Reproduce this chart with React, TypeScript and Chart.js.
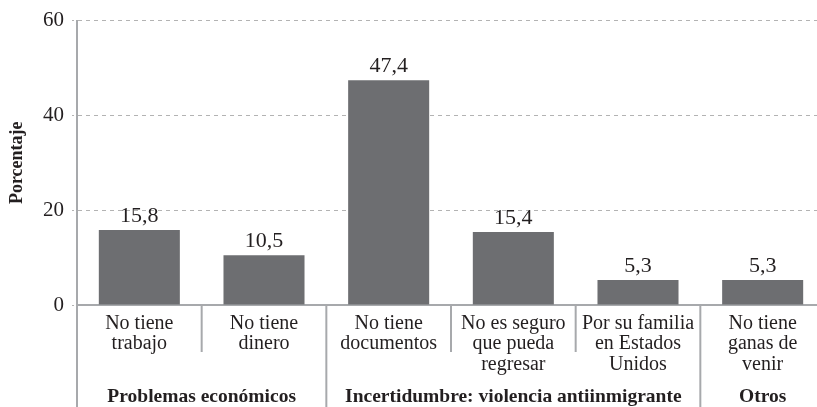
import { useEffect, useRef } from "react";
import { Chart, registerables } from "chart.js";

Chart.register(...registerables);

const categories: string[][] = [
  ["No tiene", "trabajo"],
  ["No tiene", "dinero"],
  ["No tiene", "documentos"],
  ["No es seguro", "que pueda", "regresar"],
  ["Por su familia", "en Estados", "Unidos"],
  ["No tiene", "ganas de", "venir"],
];
const values = [15.8, 10.5, 47.4, 15.4, 5.3, 5.3];
const valueLabels = ["15,8", "10,5", "47,4", "15,4", "5,3", "5,3"];
const groups = ["Problemas económicos", "Incertidumbre: violencia antiinmigrante", "Otros"];
const groupSizes = [2, 3, 1];
const yMin = 0;
const yMax = 60;
const yStep = 20;
const yTitle = "Porcentaje";

const FONT = '"Liberation Serif", "DejaVu Serif", serif';
const TEXT = "#231f20";
const AXIS = "#a7a9ac";
const BAR = "#6d6e71";

const annotatePlugin = {
  id: "annotate",
  afterDraw(chart: any) {
    const { ctx, chartArea } = chart;
    const xs = chart.scales.x;
    const meta = chart.getDatasetMeta(0);
    const H = chart.height;
    ctx.save();
    ctx.fillStyle = TEXT;
    ctx.font = `22px ${FONT}`;
    ctx.textAlign = "center";
    ctx.textBaseline = "alphabetic";
    meta.data.forEach((el: any, i: number) => {
      ctx.fillText(valueLabels[i], el.x, el.y - 8);
    });
    ctx.font = `20px ${FONT}`;
    ctx.textBaseline = "middle";
    categories.forEach((lines, i) => {
      const x = xs.getPixelForValue(i);
      lines.forEach((ln, j) => {
        ctx.fillText(ln, x, chartArea.bottom + 18.5 + j * 20.5);
      });
    });
    ctx.strokeStyle = AXIS;
    ctx.lineWidth = 2;
    const boundaries = new Set<number>();
    let acc = 0;
    groupSizes.forEach((s) => {
      acc += s;
      boundaries.add(acc - 1);
    });
    for (let i = 0; i < categories.length - 1; i++) {
      const x = (xs.getPixelForValue(i) + xs.getPixelForValue(i + 1)) / 2;
      const yEnd = boundaries.has(i) ? H : chartArea.bottom + 47;
      ctx.beginPath();
      ctx.moveTo(x, chartArea.bottom);
      ctx.lineTo(x, yEnd);
      ctx.stroke();
    }
    ctx.beginPath();
    ctx.moveTo(chartArea.left, chartArea.bottom);
    ctx.lineTo(chartArea.left, H);
    ctx.stroke();
    ctx.font = `bold 19.5px ${FONT}`;
    let start = 0;
    groups.forEach((g, gi) => {
      const end = start + groupSizes[gi] - 1;
      const x = (xs.getPixelForValue(start) + xs.getPixelForValue(end)) / 2;
      ctx.fillText(g, x, chartArea.bottom + 92);
      start = end + 1;
    });
    ctx.restore();
  },
};

export default function App() {
  const ref = useRef<HTMLCanvasElement | null>(null);
  useEffect(() => {
    if (!ref.current) return;
    const chart = new Chart(ref.current, {
      type: "bar",
      data: {
        labels: categories.map((c) => c.join(" ")),
        datasets: [
          {
            data: values,
            backgroundColor: BAR,
            barPercentage: 0.65,
            categoryPercentage: 1,
          },
        ],
      },
      options: {
        animation: false,
        responsive: false,
        devicePixelRatio: 1,
        layout: { padding: { top: 19, right: 5, left: 0, bottom: 0 } },
        plugins: { legend: { display: false }, tooltip: { enabled: false } },
        scales: {
          x: {
            ticks: { display: false },
            grid: { display: false },
            border: { display: true, color: AXIS, width: 2 },
            afterFit: (s: any) => {
              s.height = 102;
            },
          },
          y: {
            min: yMin,
            max: yMax,
            ticks: {
              stepSize: yStep,
              color: TEXT,
              font: { family: FONT, size: 21 },
              padding: 8,
            },
            grid: {
              color: "#b3b3b3",
              lineWidth: 1,
              tickLength: 5,
              tickBorderDash: [2, 3],
            },
            border: { display: true, color: AXIS, width: 2, dash: [4, 4] },
            title: {
              display: true,
              text: yTitle,
              color: TEXT,
              font: { family: FONT, size: 18, weight: "bold" },
              padding: { top: 7, bottom: 0 },
            },
            afterFit: (s: any) => {
              s.width = 77;
            },
          },
        },
      },
      plugins: [annotatePlugin],
    });
    return () => chart.destroy();
  }, []);
  return (
    <div
      style={{
        position: "fixed",
        left: 0,
        top: 0,
        width: 817,
        height: 407,
        overflow: "hidden",
        background: "#fff",
      }}
    >
      <canvas ref={ref} width={830} height={407} style={{ width: 830, height: 407, display: "block" }} />
    </div>
  );
}
